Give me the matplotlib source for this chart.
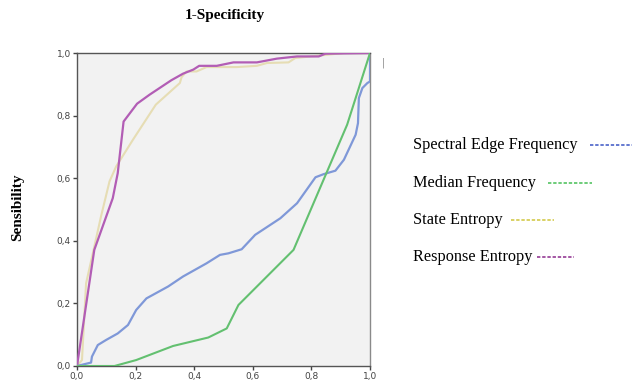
import matplotlib.pyplot as plt
import numpy as np
from matplotlib.lines import Line2D

# ROC curves (1-specificity, sensitivity)
sef_x = [0, 0.048, 0.051, 0.071, 0.099, 0.139, 0.174, 0.202, 0.237, 0.311, 0.362, 0.442,
         0.488, 0.517, 0.562, 0.608, 0.694, 0.751, 0.814, 0.842, 0.882, 0.911, 0.951,
         0.959, 0.962, 0.974, 0.991, 1.0, 1.0]
sef_y = [0, 0.011, 0.030, 0.067, 0.083, 0.104, 0.131, 0.179, 0.216, 0.254, 0.286, 0.328,
         0.355, 0.360, 0.373, 0.419, 0.472, 0.520, 0.603, 0.613, 0.624, 0.659, 0.739,
         0.776, 0.856, 0.888, 0.904, 0.909, 1.0]

mf_x = [0, 0.128, 0.202, 0.328, 0.448, 0.511, 0.551, 0.739, 0.922, 1.0]
mf_y = [0, 0.0, 0.019, 0.064, 0.091, 0.120, 0.195, 0.371, 0.771, 1.0]

se_x = [0, 0.017, 0.031, 0.054, 0.082, 0.111, 0.134, 0.191, 0.269, 0.351, 0.357, 0.374,
        0.408, 0.442, 0.545, 0.614, 0.648, 0.722, 0.745, 0.819, 0.911, 1.0]
se_y = [0, 0.019, 0.264, 0.360, 0.478, 0.590, 0.638, 0.723, 0.835, 0.904, 0.923, 0.941,
        0.941, 0.955, 0.955, 0.959, 0.968, 0.970, 0.984, 0.991, 1.0, 1.0]

re_x = [0, 0.059, 0.122, 0.139, 0.159, 0.205, 0.248, 0.322, 0.362, 0.397, 0.417, 0.477,
        0.534, 0.614, 0.682, 0.751, 0.825, 0.848, 1.0]
re_y = [0, 0.371, 0.536, 0.616, 0.781, 0.838, 0.867, 0.913, 0.934, 0.947, 0.959, 0.959,
        0.970, 0.970, 0.982, 0.989, 0.989, 0.998, 1.0]

legend_labels = ["Spectral Edge Frequency", "Median Frequency", "State Entropy", "Response Entropy"]
legend_colors = ["#3a55c4", "#45bf55", "#cfc53a", "#8c2a8c"]

W, H = 635, 383
fig = plt.figure(figsize=(W / 100, H / 100), dpi=100)
ax = fig.add_axes([77 / W, 1 - 366 / H, (370 - 77) / W, (366 - 53) / H])
ax.set_facecolor("#f2f2f2")

ax.plot(se_x, se_y, color="#e6ddb4", lw=1.5, zorder=2)
ax.plot(re_x, re_y, color="#b25db5", lw=1.6, zorder=3)
ax.plot(sef_x, sef_y, color="#7f98d8", lw=1.6, zorder=3)
ax.plot(mf_x, mf_y, color="#63c070", lw=1.5, zorder=3)

ax.set_xlim(0, 1)
ax.set_ylim(0, 1)
ticks = np.arange(0, 1.01, 0.2)
ax.set_xticks(ticks)
ax.set_yticks(ticks)
ax.set_xticklabels([f"{t:.1f}".replace(".", ",") for t in ticks])
ax.set_yticklabels([f"{t:.1f}".replace(".", ",") for t in ticks])
ax.tick_params(labelsize=6.5, colors="#444444", length=3, width=1, pad=1.5)
for s in ax.spines.values():
    s.set_color("#555555")
    s.set_linewidth(1)
ax.spines["right"].set_color("#8a8a8a")

serif = "Liberation Serif"
fig.text(225 / W, 1 - 16 / H, "1-Specificity", ha="center", va="center",
         fontsize=11, fontweight="bold", family=serif)
fig.text(18 / W, 1 - 207 / H, "Sensibility", ha="center", va="center", rotation=90,
         fontsize=11, fontweight="bold", family=serif)
fig.text(383 / W, 1 - 63 / H, "|", ha="center", va="center", fontsize=7, color="#888888")

# hand-drawn style legend: text followed by a dashed sample line
rows_y = [145, 183, 220, 257]
line_spans = [(590, 632), (548, 592), (511, 554), (537, 574)]
for label, col, yy, (x0, x1) in zip(legend_labels, legend_colors, rows_y, line_spans):
    fig.text(413 / W, 1 - yy / H, label, ha="left", va="center", fontsize=11.7, family=serif)
    fig.add_artist(Line2D([x0 / W, x1 / W], [1 - yy / H, 1 - yy / H], color=col,
                          lw=1.1, dashes=(2.2, 1.2), transform=fig.transFigure))

fig.savefig("out.png", dpi=100)
